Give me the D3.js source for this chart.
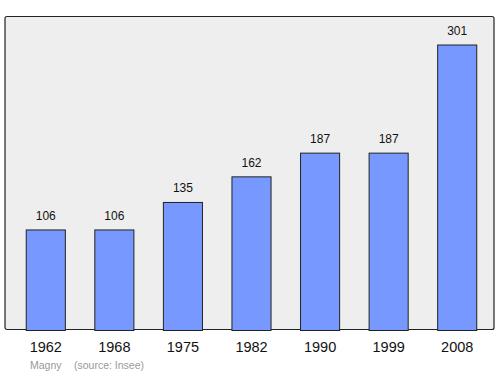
<!DOCTYPE html>
<html>
<head>
<meta charset="utf-8">
<script src="https://cdn.jsdelivr.net/npm/d3@7"></script>
<style>
  body { margin: 0; background: #fff; }
  text { font-family: "Liberation Sans", Arial, sans-serif; }
</style>
</head>
<body>
<svg width="500" height="374"></svg>
<script>
// data
var years = ['1962', '1968', '1975', '1982', '1990', '1999', '2008']
var population = [106, 106, 135, 162, 187, 187, 301]
var town = 'Magny'
var source = '(source: Insee)'

var svg = d3.select('svg')

//frame of the plot
var frame = { left: 5, top: 16.5, right: 494, bottom: 329.5 }

var x = d3.scaleBand()
    .domain(years)
    .range([11.5, 491.5])
    .paddingInner(0.43)
    .paddingOuter(0.215)

var y = d3.scaleLinear()
    .domain([0, 330])
    .range([330.5, 17.5])

svg.append('rect')
    .attr('x', frame.left)
    .attr('y', frame.top)
    .attr('width', frame.right - frame.left)
    .attr('height', frame.bottom - frame.top)
    .attr('rx', 2)
    .style('fill', '#eeeeee')
    .style('stroke', '#222')
    .style('stroke-width', 1.2)

//bars
svg.selectAll('.bar')
    .data(population)
    .enter().append('rect')
    .attr('class', 'bar')
    .attr('x', function (d, i) { return x(years[i]) })
    .attr('y', function (d) { return y(d) })
    .attr('width', x.bandwidth())
    .attr('height', function (d) { return y(0) - y(d) })
    .style('fill', '#7799ff')
    .style('stroke', '#222')
    .style('stroke-width', 1)

//value labels
svg.selectAll('.val')
    .data(population)
    .enter().append('text')
    .attr('class', 'val')
    .attr('x', function (d, i) { return x(years[i]) + x.bandwidth() / 2 })
    .attr('y', function (d) { return y(d) - 10 })
    .style('text-anchor', 'middle')
    .style('font-size', '12px')
    .style('fill', '#111')
    .text(function (d) { return d })

//x axis labels
var axis = svg.append('g')
    .attr('transform', 'translate(0,' + frame.bottom + ')')
    .call(d3.axisBottom(x).tickSize(0).tickPadding(12))
axis.select('.domain').remove()
axis.selectAll('text')
    .style('font-size', '14.5px')
    .style('fill', '#111')
    .style('font-family', '"Liberation Sans", Arial, sans-serif')

//footer
svg.append('text')
    .attr('x', 30)
    .attr('y', 369)
    .style('font-size', '10.5px')
    .style('fill', '#999')
    .text(town)
svg.append('text')
    .attr('x', 74)
    .attr('y', 369)
    .style('font-size', '10.5px')
    .style('fill', '#999')
    .text(source)
</script>
</body>
</html>
